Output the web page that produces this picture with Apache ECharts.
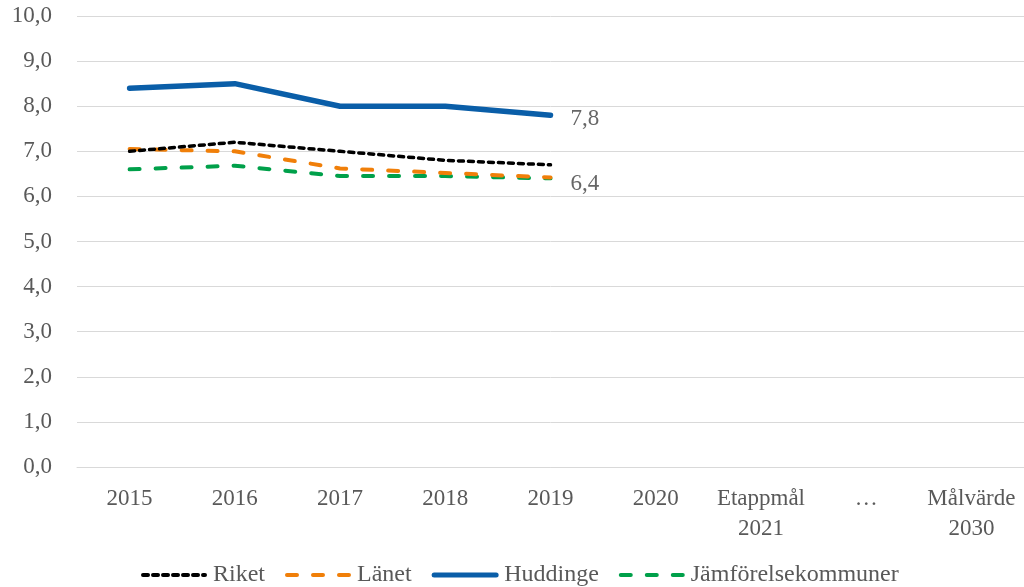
<!DOCTYPE html>
<html><head><meta charset="utf-8">
<script src="https://cdn.jsdelivr.net/npm/echarts@6/dist/echarts.min.js"></script>
<style>html,body{margin:0;padding:0;background:#fff}#c{width:1024px;height:587px}</style>
</head><body><div id="c"></div>
<script>
const categories = ['2015','2016','2017','2018','2019','2020','Etappmål\n2021','…','Målvärde\n2030'];
const riket = [7.0, 7.2, 7.0, 6.8, 6.7, null, null, null, null];
const lanet = [7.05, 7.0, 6.62, 6.52, 6.42, null, null, null, null];
const huddinge = [8.4, 8.5, 8.0, 8.0, 7.8, null, null, null, null];
const jamfor = [6.6, 6.68, 6.45, 6.45, 6.4, null, null, null, null];
const yTicks = {min: 0, max: 10, interval: 1};
const lastIdx = 4;

const font = '"Liberation Serif", "Times New Roman", serif';
const chart = echarts.init(document.getElementById('c'));
const fmt = v => v.toFixed(1).replace('.', ',');
chart.setOption({
  animation: false,
  textStyle: {fontFamily: font},
  grid: {left: 77, right: 0, top: 16, bottom: 120},
  xAxis: {
    type: 'category', data: categories, boundaryGap: true,
    axisLine: {show: true, lineStyle: {color: '#d9d9d9', width: 1}},
    axisTick: {show: false},
    axisLabel: {color: '#595959', fontSize: 23, fontFamily: font, margin: 17, lineHeight: 30, interval: 0}
  },
  yAxis: {
    type: 'value', min: yTicks.min, max: yTicks.max, interval: yTicks.interval,
    axisLine: {show: false}, axisTick: {show: false},
    splitLine: {lineStyle: {color: '#d9d9d9', width: 1}},
    axisLabel: {color: '#595959', fontSize: 23, fontFamily: font, margin: 25, formatter: fmt}
  },
  legend: {
    top: 558, left: 136, itemWidth: 62, itemHeight: 14, itemGap: 20,
    itemStyle: {opacity: 0},
    lineStyle: {width: 4},
    textStyle: {color: '#595959', fontSize: 24, fontFamily: font, padding: [0, 0, 0, 3]},
    data: ['Riket','Länet',{name: 'Huddinge', lineStyle: {width: 5}},'Jämförelsekommuner']
  },
  series: [
    {name: 'Riket', type: 'line', data: riket, symbol: 'none', z: 3,
      lineStyle: {color: '#000000', width: 3.5, type: [5, 5], cap: 'round'}, itemStyle: {color: '#000000'}},
    {name: 'Länet', type: 'line', data: lanet, symbol: 'none', z: 2,
      lineStyle: {color: '#f07f09', width: 4, type: [10, 16], cap: 'round'}, itemStyle: {color: '#f07f09'}},
    {name: 'Huddinge', type: 'line', data: huddinge, symbol: 'none', z: 4,
      lineStyle: {color: '#0a5ea8', width: 5.5, cap: 'round'}, itemStyle: {color: '#0a5ea8'}},
    {name: 'Jämförelsekommuner', type: 'line', data: jamfor, symbol: 'none', z: 1,
      lineStyle: {color: '#00a04a', width: 4, type: [10, 16], cap: 'round'}, itemStyle: {color: '#00a04a'}},
    {name: 'lblH', type: 'scatter', data: [[lastIdx, huddinge[lastIdx]]], symbolSize: 0, silent: true,
      label: {show: true, position: 'right', distance: 20, offset: [0, 4], color: '#404040', fontSize: 23, fontFamily: font,
        formatter: p => fmt(p.value[1])}},
    {name: 'lblJ', type: 'scatter', data: [[lastIdx, jamfor[lastIdx]]], symbolSize: 0, silent: true,
      label: {show: true, position: 'right', distance: 20, offset: [0, 6], color: '#404040', fontSize: 23, fontFamily: font,
        formatter: p => fmt(p.value[1])}}
  ]
});
</script></body></html>
